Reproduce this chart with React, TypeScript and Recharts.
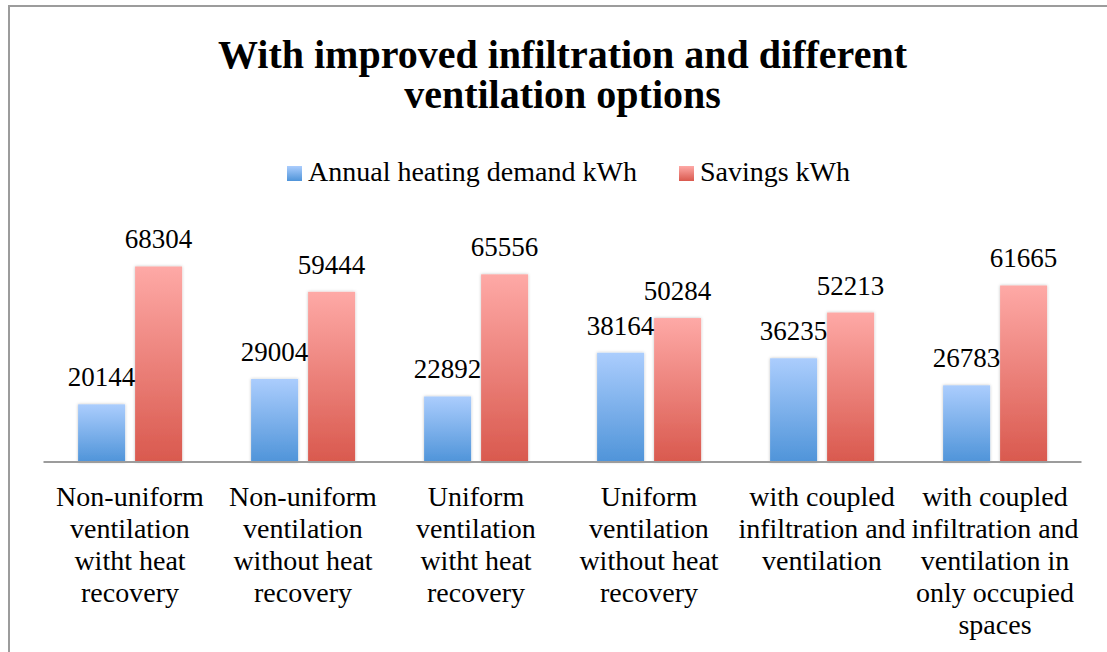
import { BarChart, Bar, XAxis, YAxis, Legend, LabelList } from "recharts";

const categories = [
  "Non-uniform ventilation witht heat recovery",
  "Non-uniform ventilation without heat recovery",
  "Uniform ventilation witht heat recovery",
  "Uniform ventilation without heat recovery",
  "with coupled infiltration and ventilation",
  "with coupled infiltration and ventilation in only occupied spaces",
];

// how the category labels wrap in the original
const categoryLines = [
  ["Non-uniform", "ventilation", "witht heat", "recovery"],
  ["Non-uniform", "ventilation", "without heat", "recovery"],
  ["Uniform", "ventilation", "witht heat", "recovery"],
  ["Uniform", "ventilation", "without heat", "recovery"],
  ["with coupled", "infiltration and", "ventilation"],
  ["with coupled", "infiltration and", "ventilation in", "only occupied", "spaces"],
];

const heatingDemand = [20144, 29004, 22892, 38164, 36235, 26783];
const savings = [68304, 59444, 65556, 50284, 52213, 61665];

const yDomain = [0, 80000];

const seriesNames = ["Annual heating demand kWh", "Savings kWh"];

const data = categories.map((name, i) => ({
  name,
  demand: heatingDemand[i],
  savings: savings[i],
}));

const FONT = "Liberation Serif";

function CategoryTick({ x, y, payload }: any) {
  const lines = categoryLines[categories.indexOf(payload.value)] ?? [payload.value];
  return (
    <text x={x} y={y + 44} textAnchor="middle" fontSize={28} fill="#000" style={{ fontFamily: FONT }}>
      {lines.map((l, i) => (
        <tspan key={i} x={x} dy={i === 0 ? 0 : 32}>{l}</tspan>
      ))}
    </text>
  );
}

function ShadowBar(props: any) {
  const { x, y, width, height, fill } = props;
  return <rect x={x} y={y} width={width} height={height} fill={fill} filter="url(#barShadow)" />;
}

function LegendBox() {
  const grads = [
    "linear-gradient(#abcdfd, #4f94d9)",
    "linear-gradient(#fea9a6, #d9594e)",
  ];
  return (
    <div style={{
      position: "absolute", left: 287, top: 157, display: "flex", alignItems: "center",
      whiteSpace: "nowrap", fontFamily: FONT, fontSize: 28, lineHeight: "30px", color: "#000",
    }}>
      {seriesNames.map((s, i) => (
        <span key={s} style={{ display: "flex", alignItems: "center", marginRight: i === 0 ? 42 : 0 }}>
          <span style={{ width: 15, height: 15, background: grads[i], marginRight: 6, marginTop: 2 }} />
          <span>{s}</span>
        </span>
      ))}
    </div>
  );
}

const labelStyle = { fontFamily: FONT };

export default function App() {
  return (
    <div style={{ position: "absolute", left: 0, top: 0, width: 1107, height: 652, overflow: "hidden", background: "#fff", fontFamily: FONT }}>
      <div style={{
        position: "absolute", left: 8, top: 5, width: 1200, height: 800,
        border: "2px solid #9c9c9c", boxSizing: "border-box",
      }} />
      <div style={{
        position: "absolute", left: 10, top: 35, width: 1105, textAlign: "center",
        fontFamily: FONT, fontWeight: "bold", fontSize: 40, lineHeight: "40px", color: "#000",
      }}>
        <div>With improved infiltration and different</div>
        <div>ventilation options</div>
      </div>
      <div style={{ position: "absolute", left: 0, top: 0 }}>
        <BarChart
          width={1107}
          height={652}
          data={data}
          margin={{ top: 233, right: 25.5, bottom: 10, left: 43.5 }}
          barCategoryGap="20%"
          barGap={10}
          style={{ fontFamily: FONT }}
        >
          <defs>
            <linearGradient id="blueGrad" x1="0" y1="0" x2="0" y2="1">
              <stop offset="0%" stopColor="#abcdfd" />
              <stop offset="100%" stopColor="#4f94d9" />
            </linearGradient>
            <linearGradient id="redGrad" x1="0" y1="0" x2="0" y2="1">
              <stop offset="0%" stopColor="#fea9a6" />
              <stop offset="100%" stopColor="#d9594e" />
            </linearGradient>
            <filter id="barShadow" x="-20%" y="-10%" width="140%" height="120%">
              <feDropShadow dx="0" dy="0" stdDeviation="1.5" floodColor="#000" floodOpacity="0.25" />
            </filter>
          </defs>
          <XAxis
            dataKey="name"
            height={180}
            interval={0}
            tickLine={false}
            tickSize={0}
            tickMargin={0}
            axisLine={{ stroke: "#9c9c9c", strokeWidth: 2 }}
            tick={<CategoryTick />}
          />
          <YAxis hide domain={yDomain} />
          <Legend verticalAlign="middle" align="center" wrapperStyle={{ left: 0, top: 0, width: 1107, height: 0 }} content={<LegendBox />} />
          <Bar dataKey="demand" name={seriesNames[0]} fill="url(#blueGrad)" shape={<ShadowBar />} isAnimationActive={false}>
            <LabelList dataKey="demand" position="top" offset={18} fontSize={27} fill="#000" style={labelStyle} />
          </Bar>
          <Bar dataKey="savings" name={seriesNames[1]} fill="url(#redGrad)" shape={<ShadowBar />} isAnimationActive={false}>
            <LabelList dataKey="savings" position="top" offset={18} fontSize={27} fill="#000" style={labelStyle} />
          </Bar>
        </BarChart>
      </div>
    </div>
  );
}
